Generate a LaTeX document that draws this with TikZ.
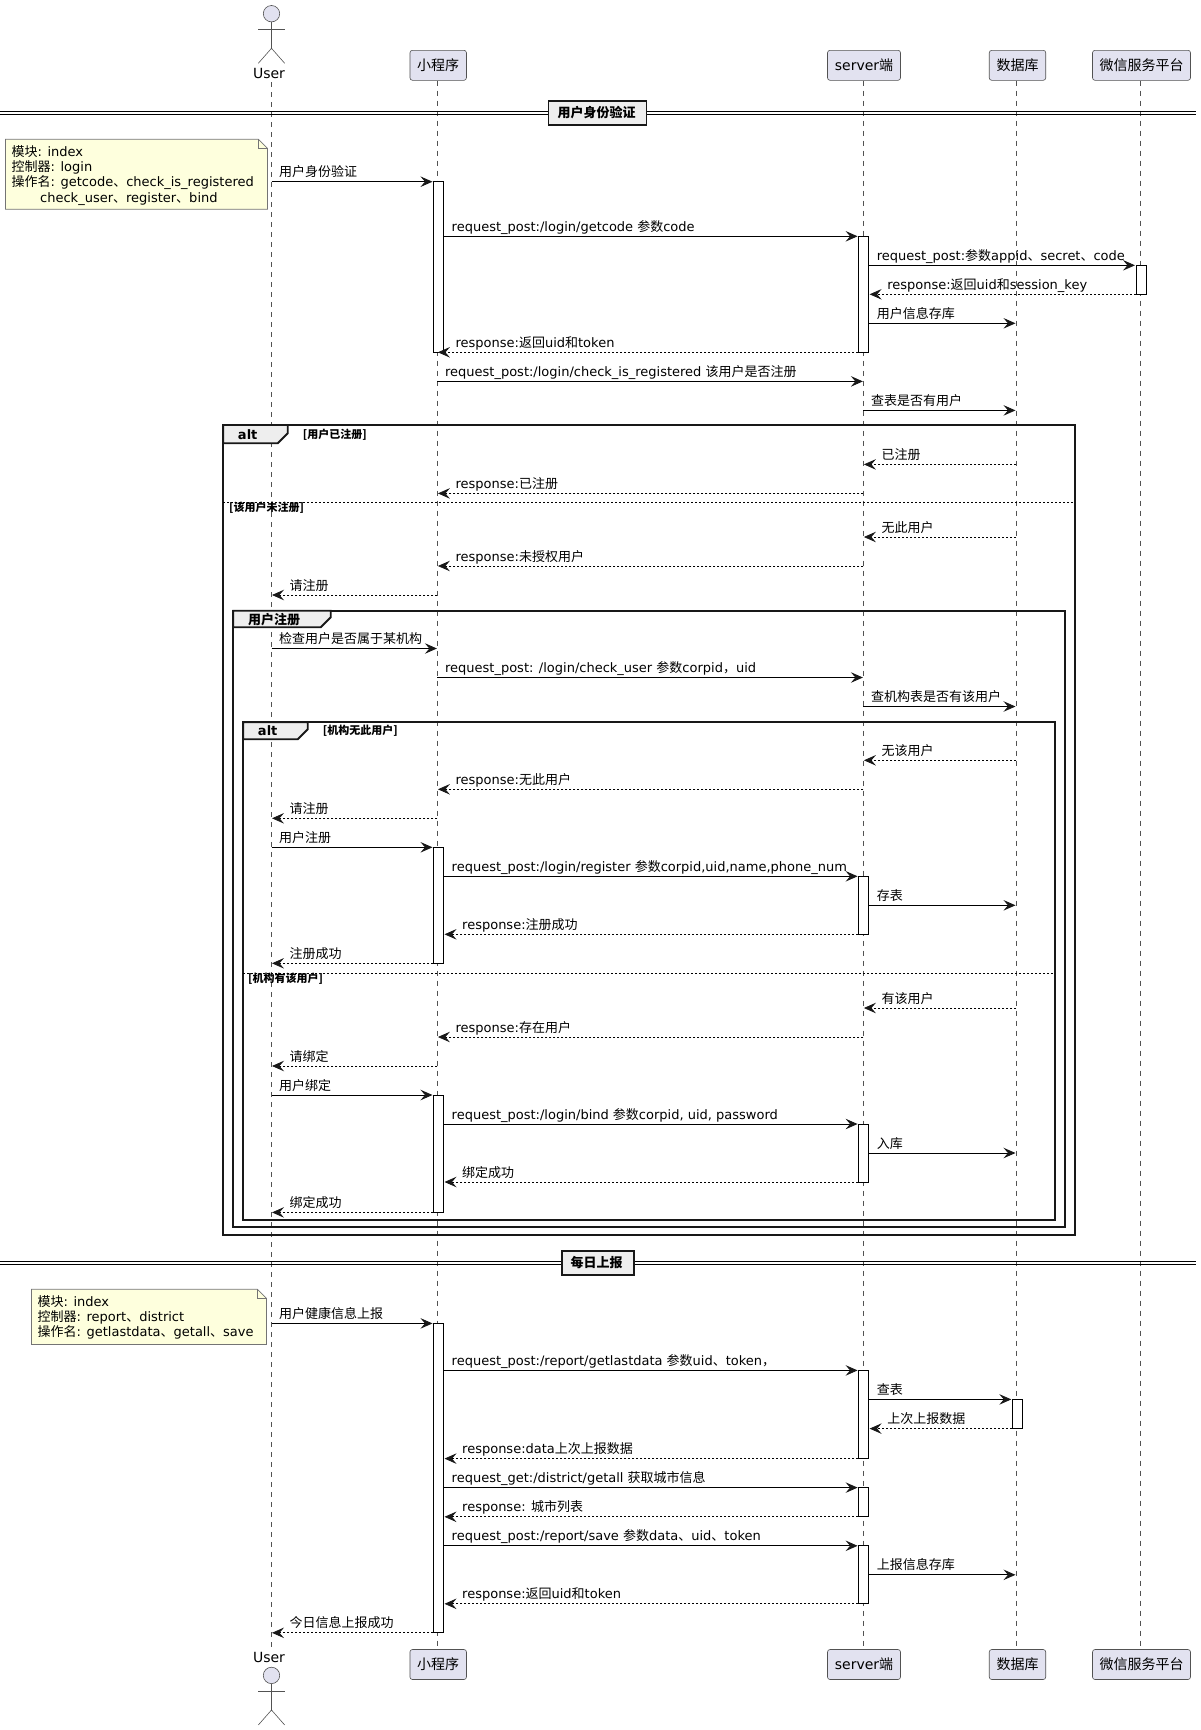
\documentclass[tikz,border=0pt]{standalone}
\usepackage{fontspec}
\setmainfont{DejaVu Sans}
\newfontfamily\cjk{Noto Sans CJK SC}
\usetikzlibrary{arrows.meta, positioning, calc}
\definecolor{partfill}{HTML}{E2E2F0}
\definecolor{notefill}{HTML}{FEFFDD}
\definecolor{tabfill}{HTML}{EEEEEE}
\definecolor{inkdark}{HTML}{181818}
\tikzset{
  partbox/.style={draw=inkdark!75, line width=0.6pt, fill=partfill, rounded corners=2.5pt, minimum height=30pt, inner sep=0pt, font=\fontsize{14}{16}\selectfont},
  lifeline/.style={draw=inkdark!75, line width=0.6pt, dash pattern=on 5pt off 5pt},
  actorline/.style={draw=inkdark!75, line width=0.6pt},
  actbar/.style={draw=black, line width=1pt, fill=white, minimum width=10pt, inner sep=0pt},
  callarrow/.style={draw=black, line width=0.9pt, -{Stealth[length=12pt, width=10.5pt, inset=4.5pt, inkdark]}, shorten >=0.5pt},
  backarrow/.style={draw=black, line width=0.8pt, dash pattern=on 2pt off 2pt, -{Stealth[length=12pt, width=10.5pt, inset=4.5pt, inkdark]}, shorten >=0.5pt},
  calllabel/.style={anchor=base west, inner sep=0pt, xshift=7.5pt, yshift=5pt, font=\fontsize{13}{15}\selectfont},
  backlabel/.style={calllabel, xshift=10.5pt},
  framebox/.style={draw=inkdark, line width=1.8pt},
  frametab/.style={draw=inkdark, line width=1.8pt, fill=tabfill},
  tabtext/.style={inner sep=0pt, font=\fontsize{13}{15}\selectfont\bfseries},
  guardtext/.style={anchor=west, inner sep=0pt, font=\fontsize{11}{13}\selectfont\bfseries},
  altsep/.style={draw=black, line width=0.8pt, dash pattern=on 2pt off 2pt},
  dividerline/.style={draw=black, line width=1pt},
  dividerbox/.style={draw=inkdark, line width=1.8pt, fill=tabfill, inner sep=0pt, font=\fontsize{13}{15}\selectfont\bfseries},
  notebox/.style={draw=inkdark!60, line width=0.7pt, fill=notefill},
  notetext/.style={anchor=north west, align=left, inner sep=0pt, font=\fontsize{13}{15.4}\selectfont},
}
\newcommand{\callmsg}[5]{%
  \coordinate (#1) at (0,#4);
  \draw[callarrow] (#2 |- #1) -- (#3 |- #1);
  \node[calllabel] (#1t) at (#2 |- #1) {#5};
}
\newcommand{\backmsg}[5]{%
  \coordinate (#1) at (0,#4);
  \draw[backarrow] (#2 |- #1) -- (#3 |- #1);
  \node[backlabel] (#1t) at (#3 |- #1) {#5};
}
\newcommand{\actorfig}[1]{%
  \draw[actorline, fill=partfill] (271.5,#1) circle[radius=8.2];
  \draw[actorline] (271.5,#1+8.2) -- (271.5,#1+34.6);
  \draw[actorline] (258.3,#1+15.6) -- (284.7,#1+15.6);
  \draw[actorline] (258.3,#1+49.6) -- (271.5,#1+34.6) -- (284.7,#1+49.6);
}
\begin{document}
\begin{tikzpicture}[x=1pt, y=-1pt]
  \useasboundingbox (0,0) rectangle (1201,1730);

  % lifeline columns
  \coordinate (user) at (271.5,0);
  \coordinate (app) at (437.4,0);
  \coordinate (server) at (863.4,0);
  \coordinate (db) at (1016,0);
  \coordinate (wx) at (1140.4,0);

  % participants, top
  \actorfig{13.7}
  \node[inner sep=0pt, font=\fontsize{14}{16}\selectfont] (userT) at (269,73.5) {User};
  \node[partbox, minimum width=56.5pt] (appT) at (438.2,65.3) {\cjk 小程序};
  \node[partbox, minimum width=73pt] (serverT) at (864,65.3) {server{\cjk 端}};
  \node[partbox, minimum width=56.5pt] (dbT) at (1017.5,65.3) {\cjk 数据库};
  \node[partbox, minimum width=98pt] (wxT) at (1141.5,65.3) {\cjk 微信服务平台};

  % participants, bottom
  \actorfig{1675.4}
  \node[inner sep=0pt, font=\fontsize{14}{16}\selectfont] (userB) at (269,1657.5) {User};
  \node[partbox, minimum width=56.5pt] (appB) at (438.2,1664.5) {\cjk 小程序};
  \node[partbox, minimum width=73pt] (serverB) at (864,1664.5) {server{\cjk 端}};
  \node[partbox, minimum width=56.5pt] (dbB) at (1017.5,1664.5) {\cjk 数据库};
  \node[partbox, minimum width=98pt] (wxB) at (1141.5,1664.5) {\cjk 微信服务平台};

  % lifelines
  \draw[lifeline] (user |- 0,82) -- (user |- 0,1648);
  \draw[lifeline] (app |- appT.south) -- (app |- appB.north);
  \draw[lifeline] (server |- serverT.south) -- (server |- serverB.north);
  \draw[lifeline] (db |- dbT.south) -- (db |- dbB.north);
  \draw[lifeline] (wx |- wxT.south) -- (wx |- wxB.north);

  % dividers
  \draw[dividerline] (0,111.7) -- (1196,111.7);
  \draw[dividerline] (0,114.6) -- (1196,114.6);
  \node[dividerbox, minimum width=98pt, minimum height=24pt] (divLogin) at (597.5,113) {\hspace*{-2pt}\cjk 用户身份验证};
  \draw[dividerline] (0,1261.4) -- (1196,1261.4);
  \draw[dividerline] (0,1264.3) -- (1196,1264.3);
  \node[dividerbox, minimum width=72pt, minimum height=24pt] (divReport) at (597.7,1263) {\hspace*{-2pt}\cjk 每日上报};

  % notes
  \draw[notebox] (5.4,139.3) -- (258.5,139.3) -- (267.5,148.3) -- (267.5,209.3) -- (5.4,209.3) -- cycle;
  \draw[notebox, fill=none] (258.5,139.3) -- (258.5,148.3) -- (267.5,148.3);
  \node[notetext] (noteLogin) at (11.5,145) {{\cjk 模块}: index\\{\cjk 控制器}: login\\{\cjk 操作名}: getcode{\cjk 、}check\_is\_registered\\\hspace*{28.5pt}check\_user{\cjk 、}register{\cjk 、}bind};
  \draw[notebox] (31.4,1289.3) -- (257.4,1289.3) -- (266.4,1298.3) -- (266.4,1344.5) -- (31.4,1344.5) -- cycle;
  \draw[notebox, fill=none] (257.4,1289.3) -- (257.4,1298.3) -- (266.4,1298.3);
  \node[notetext] (noteReport) at (37.5,1295) {{\cjk 模块}: index\\{\cjk 控制器}: report{\cjk 、}district\\{\cjk 操作名}: getlastdata{\cjk 、}getall{\cjk 、}save};

  % frames
  \draw[framebox] (223.3,425) rectangle (1075,1234.8);
  \draw[frametab] (223.3,425) -- (287.7,425) -- (287.7,433.3) -- (277.7,443.3) -- (223.3,443.3) -- cycle;
  \node[tabtext] (altReg) at (247.7,434.7) {alt};
  \node[guardtext] (guardReg) at (302.7,434.3) {\cjk [用户已注册]};
  \draw[altsep] (223.3,502.3) -- (1075,502.3);
  \node[guardtext] (guardNoReg) at (229,508) {\cjk [该用户未注册]};

  \draw[framebox] (233.3,610.7) rectangle (1065,1227.2);
  \draw[frametab] (233.3,610.7) -- (330.7,610.7) -- (330.7,617.3) -- (320.7,627.3) -- (233.3,627.3) -- cycle;
  \node[tabtext] (grpReg) at (274,619.3) {\cjk 用户注册};

  \draw[framebox] (243.3,722.3) rectangle (1055,1220.3);
  \draw[frametab] (243.3,722.3) -- (307.7,722.3) -- (307.7,729.3) -- (297.7,739.3) -- (243.3,739.3) -- cycle;
  \node[tabtext] (altOrg) at (267.7,730.7) {alt};
  \node[guardtext] (guardOrg) at (322.7,730.3) {\cjk [机构无此用户]};
  \draw[altsep] (243.3,973) -- (1055,973);
  \node[guardtext] (guardHasOrg) at (248,978.6) {\cjk [机构有该用户]};

  % activation bars
  \node[actbar, minimum height=170.6pt] (act1) at (438.5,267) {};
  \node[actbar, minimum height=116pt] (act2) at (863.6,294.3) {};
  \node[actbar, minimum height=29pt] (act3) at (1141,279.8) {};
  \node[actbar, minimum height=116pt] (act4) at (438.5,905.3) {};
  \node[actbar, minimum height=58pt] (act5) at (863.6,905.3) {};
  \node[actbar, minimum height=117.4pt] (act6) at (438.5,1153.7) {};
  \node[actbar, minimum height=58pt] (act7) at (863.6,1153) {};
  \node[actbar, minimum height=309.4pt] (act8) at (438.5,1478.1) {};
  \node[actbar, minimum height=88.2pt] (act9) at (863.6,1414.5) {};
  \node[actbar, minimum height=29.2pt] (act10) at (1017.3,1414) {};
  \node[actbar, minimum height=29.2pt] (act11) at (863.6,1502.2) {};
  \node[actbar, minimum height=58pt] (act12) at (863.6,1574.8) {};

  % login
  \callmsg{m1}{user}{act1.west}{181.7}{\cjk 用户身份验证}
  \callmsg{m2}{act1.east}{act2.west}{236.3}{request\_post:/login/getcode {\cjk 参数}code}
  \callmsg{m3}{act2.east}{act3.west}{265.3}{request\_post:{\cjk 参数}appid{\cjk 、}secret{\cjk 、}code}
  \backmsg{m4}{act3.west}{act2.east}{294.3}{response:{\cjk 返回}uid{\cjk 和}session\_key}
  \callmsg{m5}{act2.east}{db}{323.3}{\cjk 用户信息存库}
  \backmsg{m6}{act2.west}{app}{352.3}{response:{\cjk 返回}uid{\cjk 和}token}
  \callmsg{m7}{app}{server}{381.4}{request\_post:/login/check\_is\_registered {\cjk 该用户是否注册}}
  \callmsg{m8}{server}{db}{410.4}{\cjk 查表是否有用户}
  \backmsg{m9}{db}{server}{464.4}{\cjk 已注册}
  \backmsg{m10}{server}{app}{493.4}{response:{\cjk 已注册}}
  \backmsg{m11}{db}{server}{537}{\cjk 无此用户}
  \backmsg{m12}{server}{app}{566}{response:{\cjk 未授权用户}}
  \backmsg{m13}{app}{user}{595}{\cjk 请注册}

  % register
  \callmsg{m14}{user}{app}{648.5}{\cjk 检查用户是否属于某机构}
  \callmsg{m15}{app}{server}{677.5}{request\_post: /login/check\_user {\cjk 参数}corpid{\cjk ，}uid}
  \callmsg{m16}{server}{db}{706.5}{\cjk 查机构表是否有该用户}
  \backmsg{m17}{db}{server}{760.3}{\cjk 无该用户}
  \backmsg{m18}{server}{app}{789.3}{response:{\cjk 无此用户}}
  \backmsg{m19}{app}{user}{818.3}{\cjk 请注册}
  \callmsg{m20}{user}{act4.west}{847.3}{\cjk 用户注册}
  \callmsg{m21}{act4.east}{act5.west}{876.3}{request\_post:/login/register {\cjk 参数}corpid,uid,name,phone\_num}
  \callmsg{m22}{act5.east}{db}{905.3}{\cjk 存表}
  \backmsg{m23}{act5.west}{act4.east}{934.3}{response:{\cjk 注册成功}}
  \backmsg{m24}{act4.west}{user}{963.3}{\cjk 注册成功}
  \backmsg{m25}{db}{server}{1008}{\cjk 有该用户}
  \backmsg{m26}{server}{app}{1037}{response:{\cjk 存在用户}}
  \backmsg{m27}{app}{user}{1066}{\cjk 请绑定}
  \callmsg{m28}{user}{act6.west}{1095}{\cjk 用户绑定}
  \callmsg{m29}{act6.east}{act7.west}{1124}{request\_post:/login/bind {\cjk 参数}corpid, uid, password}
  \callmsg{m30}{act7.east}{db}{1153}{\cjk 入库}
  \backmsg{m31}{act7.west}{act6.east}{1182}{\cjk 绑定成功}
  \backmsg{m32}{act6.west}{user}{1212.4}{\cjk 绑定成功}

  % report
  \callmsg{m33}{user}{act8.west}{1323.4}{\cjk 用户健康信息上报}
  \callmsg{m34}{act8.east}{act9.west}{1370.4}{request\_post:/report/getlastdata {\cjk 参数}uid{\cjk 、}token{\cjk ，}}
  \callmsg{m35}{act9.east}{act10.west}{1399.4}{\cjk 查表}
  \backmsg{m36}{act10.west}{act9.east}{1428.6}{\cjk 上次上报数据}
  \backmsg{m37}{act9.west}{act8.east}{1458.6}{response:data{\cjk 上次上报数据}}
  \callmsg{m38}{act8.east}{act11.west}{1487.6}{request\_get:/district/getall {\cjk 获取城市信息}}
  \backmsg{m39}{act11.west}{act8.east}{1516.8}{response: {\cjk 城市列表}}
  \callmsg{m40}{act8.east}{act12.west}{1545.8}{request\_post:/report/save {\cjk 参数}data{\cjk 、}uid{\cjk 、}token}
  \callmsg{m41}{act12.east}{db}{1574.8}{\cjk 上报信息存库}
  \backmsg{m42}{act12.west}{act8.east}{1603.8}{response:{\cjk 返回}uid{\cjk 和}token}
  \backmsg{m43}{act8.west}{user}{1632.8}{\cjk 今日信息上报成功}
\end{tikzpicture}
\end{document}
